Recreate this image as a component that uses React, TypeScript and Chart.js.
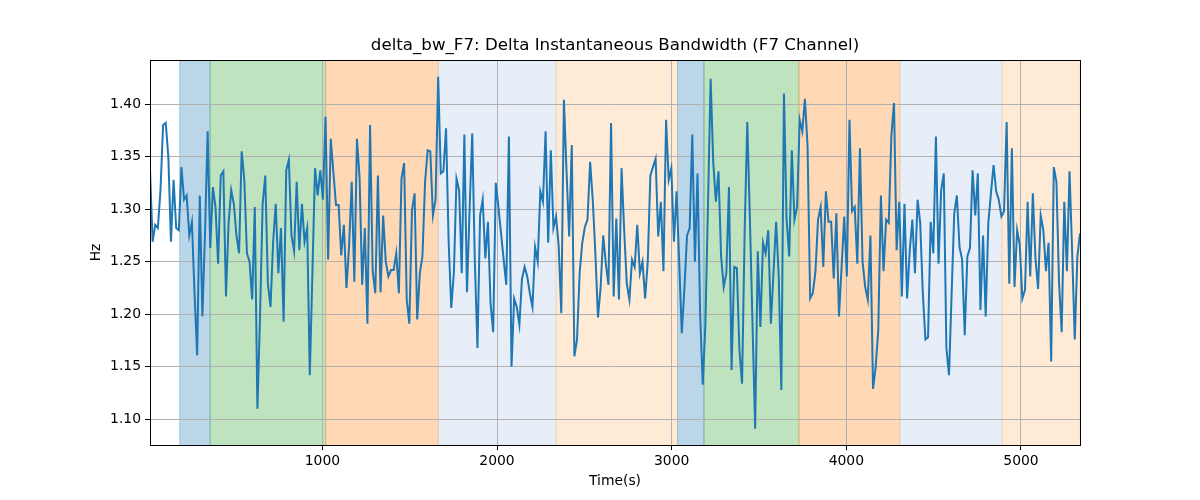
import React, { useEffect, useRef } from "react";
import { Chart, registerables } from "chart.js";

Chart.register(...registerables);

// time axis: first sample time and sampling step (s)
const T0 = 13;
const DT = 15;

// delta bandwidth values (Hz), read left to right
const seg1 = [1.337, 1.269, 1.285, 1.282, 1.318, 1.380, 1.382, 1.350, 1.269, 1.328, 1.282, 1.280, 1.340, 1.309, 1.313, 1.275, 1.288, 1.220, 1.161, 1.313, 1.198, 1.277, 1.374, 1.263, 1.321, 1.302, 1.248, 1.332, 1.336, 1.217, 1.287, 1.318, 1.305, 1.275, 1.258, 1.355, 1.328, 1.258, 1.250, 1.214, 1.302, 1.110, 1.198, 1.305, 1.332, 1.229, 1.207, 1.269, 1.305, 1.239, 1.282, 1.193, 1.337, 1.347, 1.275, 1.260, 1.326, 1.261, 1.305, 1.269, 1.282];
const seg2 = [1.142, 1.240, 1.339, 1.313, 1.337, 1.309, 1.388, 1.252, 1.367, 1.335, 1.304, 1.304, 1.256, 1.285, 1.225, 1.265, 1.326, 1.231, 1.367, 1.330, 1.228, 1.282, 1.191, 1.380, 1.241, 1.220, 1.332, 1.221, 1.294, 1.250, 1.236, 1.242, 1.242, 1.258, 1.220, 1.329, 1.344, 1.214, 1.191, 1.299, 1.315, 1.195, 1.239, 1.255, 1.326, 1.356, 1.355, 1.294, 1.309, 1.426, 1.334, 1.336, 1.377, 1.269, 1.206, 1.240, 1.329, 1.318];
const seg3 = [1.239, 1.371, 1.221, 1.300, 1.372, 1.250, 1.168, 1.294, 1.309, 1.253, 1.288, 1.210, 1.183, 1.325, 1.302, 1.277, 1.252, 1.228, 1.369, 1.150, 1.215, 1.207, 1.190, 1.234, 1.245, 1.236, 1.220, 1.207, 1.264, 1.250, 1.317, 1.307, 1.374, 1.268, 1.356, 1.282, 1.293, 1.265, 1.201, 1.404, 1.336, 1.274, 1.361, 1.160, 1.176, 1.239, 1.268, 1.283, 1.290, 1.345, 1.309, 1.258, 1.197, 1.225, 1.275, 1.248, 1.228, 1.382];
const seg4 = [1.217, 1.291, 1.214, 1.339, 1.280, 1.229, 1.214, 1.252, 1.245, 1.285, 1.239, 1.250, 1.215, 1.250, 1.332, 1.340, 1.348, 1.274, 1.307, 1.241, 1.385, 1.328, 1.339, 1.269, 1.317, 1.250, 1.182, 1.225, 1.275, 1.282, 1.371, 1.250, 1.334, 1.200, 1.133, 1.190, 1.305, 1.424, 1.345, 1.307, 1.336, 1.255, 1.226, 1.239, 1.321, 1.147, 1.245, 1.244, 1.166, 1.134, 1.280, 1.383, 1.290, 1.190, 1.091, 1.260, 1.188, 1.268];
const seg5 = [1.258, 1.280, 1.191, 1.240, 1.288, 1.236, 1.128, 1.410, 1.290, 1.255, 1.356, 1.290, 1.302, 1.385, 1.374, 1.405, 1.360, 1.215, 1.220, 1.240, 1.290, 1.302, 1.245, 1.317, 1.288, 1.288, 1.234, 1.296, 1.198, 1.245, 1.293, 1.236, 1.385, 1.298, 1.302, 1.248, 1.358, 1.250, 1.226, 1.214, 1.275, 1.129, 1.150, 1.185, 1.313, 1.241, 1.290, 1.287, 1.370, 1.401, 1.261, 1.307, 1.217, 1.305, 1.215, 1.260, 1.290, 1.239];
const seg6 = [1.309, 1.287, 1.220, 1.176, 1.178, 1.288, 1.258, 1.369, 1.248, 1.318, 1.334, 1.168, 1.142, 1.220, 1.296, 1.313, 1.264, 1.252, 1.180, 1.255, 1.263, 1.337, 1.294, 1.334, 1.204, 1.275, 1.198, 1.287, 1.315, 1.342, 1.317, 1.309, 1.293, 1.298, 1.383, 1.229, 1.358, 1.226, 1.280, 1.266, 1.215, 1.223, 1.307, 1.236, 1.315, 1.253, 1.224, 1.294, 1.280, 1.241, 1.268, 1.155, 1.340, 1.326, 1.230, 1.183, 1.307, 1.241, 1.336, 1.260, 1.176, 1.255, 1.277];

// shaded phases (s)
const regionStart = [183, 357, 1019, 1664, 2338, 3034, 3185, 3729, 4307, 4891];
const regionEnd = [357, 1019, 1664, 2338, 3034, 3185, 3729, 4307, 4891, 5338];
const regionColor = [
  "rgba(31,119,180,0.3)",
  "rgba(44,160,44,0.3)",
  "rgba(255,127,14,0.3)",
  "rgba(174,199,232,0.3)",
  "rgba(255,187,120,0.3)",
  "rgba(31,119,180,0.3)",
  "rgba(44,160,44,0.3)",
  "rgba(255,127,14,0.3)",
  "rgba(174,199,232,0.3)",
  "rgba(255,187,120,0.3)",
];

const xTicks = [1000, 2000, 3000, 4000, 5000];
const yTicks = [1.1, 1.15, 1.2, 1.25, 1.3, 1.35, 1.4];
const Y_MIN = 1.0756;
const Y_MAX = 1.4419;

const FONT = "'DejaVu Sans', sans-serif";

export default function App() {
  const ref = useRef<HTMLCanvasElement | null>(null);

  useEffect(() => {
    const values = [...seg1, ...seg2, ...seg3, ...seg4, ...seg5, ...seg6];
    const points = values.map((v, i) => ({ x: T0 + i * DT, y: v }));
    const xMax = T0 + (values.length - 1) * DT;

    const regionsPlugin = {
      id: "regions",
      beforeDraw(chart: any) {
        const { ctx, chartArea, scales } = chart;
        const xs = scales.x;
        ctx.save();
        ctx.beginPath();
        ctx.rect(chartArea.left, chartArea.top, chartArea.right - chartArea.left, chartArea.bottom - chartArea.top);
        ctx.clip();
        for (let i = 0; i < regionStart.length; i++) {
          const x1 = xs.getPixelForValue(regionStart[i]);
          const x2 = xs.getPixelForValue(regionEnd[i]);
          ctx.fillStyle = regionColor[i];
          ctx.fillRect(x1, chartArea.top, x2 - x1, chartArea.bottom - chartArea.top);
          ctx.strokeStyle = regionColor[i];
          ctx.lineWidth = 1;
          ctx.beginPath();
          ctx.moveTo(x1, chartArea.top);
          ctx.lineTo(x1, chartArea.bottom);
          ctx.moveTo(x2, chartArea.top);
          ctx.lineTo(x2, chartArea.bottom);
          ctx.stroke();
        }
        ctx.restore();
      },
      afterDraw(chart: any) {
        const { ctx, chartArea } = chart;
        ctx.save();
        ctx.strokeStyle = "#000";
        ctx.lineWidth = 1;
        ctx.strokeRect(
          Math.round(chartArea.left) + 0.5,
          Math.round(chartArea.top) + 0.5,
          Math.round(chartArea.right - chartArea.left),
          Math.round(chartArea.bottom - chartArea.top)
        );
        ctx.restore();
      },
    };

    const chart = new Chart(ref.current as HTMLCanvasElement, {
      type: "line",
      data: {
        datasets: [
          {
            data: points,
            borderColor: "#1f77b4",
            borderWidth: 2,
            pointRadius: 0,
            tension: 0,
            fill: false,
          },
        ],
      },
      options: {
        responsive: false,
        animation: false,
        layout: { padding: { left: 0, right: 120, top: 36, bottom: 0 } },
        plugins: {
          legend: { display: false },
          tooltip: { enabled: false },
          title: {
            display: true,
            fullSize: false,
            text: "delta_bw_F7: Delta Instantaneous Bandwidth (F7 Channel)",
            color: "#000",
            font: { family: FONT, size: 16.67, weight: "normal" },
            padding: { top: 0, bottom: 4 },
          },
        },
        scales: {
          x: {
            type: "linear",
            min: T0,
            max: xMax,
            afterBuildTicks: (scale: any) => {
              scale.ticks = xTicks.map((v) => ({ value: v }));
            },
            afterFit: (scale: any) => {
              scale.height = 55;
            },
            ticks: {
              color: "#000",
              font: { family: FONT, size: 13.9 },
              padding: 3,
              maxRotation: 0,
              autoSkip: false,
              callback: (v: any) => String(v),
            },
            grid: { color: "#b0b0b0", lineWidth: 1, tickColor: "#000", tickLength: 5 },
            border: { display: true, color: "#000" },
            title: {
              display: true,
              text: "Time(s)",
              color: "#000",
              font: { family: FONT, size: 13.9 },
              padding: { top: 0, bottom: 10.5 },
            },
          },
          y: {
            type: "linear",
            min: Y_MIN,
            max: Y_MAX,
            afterBuildTicks: (scale: any) => {
              scale.ticks = yTicks.map((v) => ({ value: v }));
            },
            afterFit: (scale: any) => {
              scale.width = 150;
            },
            ticks: {
              color: "#000",
              font: { family: FONT, size: 13.9 },
              padding: 4,
              autoSkip: false,
              callback: (v: any) => Number(v).toFixed(2),
            },
            grid: { color: "#b0b0b0", lineWidth: 1, tickColor: "#000", tickLength: 5 },
            border: { display: true, color: "#000" },
            title: {
              display: true,
              text: "Hz",
              color: "#000",
              font: { family: FONT, size: 13.9 },
              padding: { top: 88.5, bottom: 0 },
            },
          },
        },
      },
      plugins: [regionsPlugin],
    } as any);

    return () => chart.destroy();
  }, []);

  return (
    <div style={{ position: "fixed", left: 0, top: 0, width: 1200, height: 500, background: "#fff" }}>
      <canvas ref={ref} width={1200} height={500} style={{ display: "block", width: 1200, height: 500 }} />
    </div>
  );
}
